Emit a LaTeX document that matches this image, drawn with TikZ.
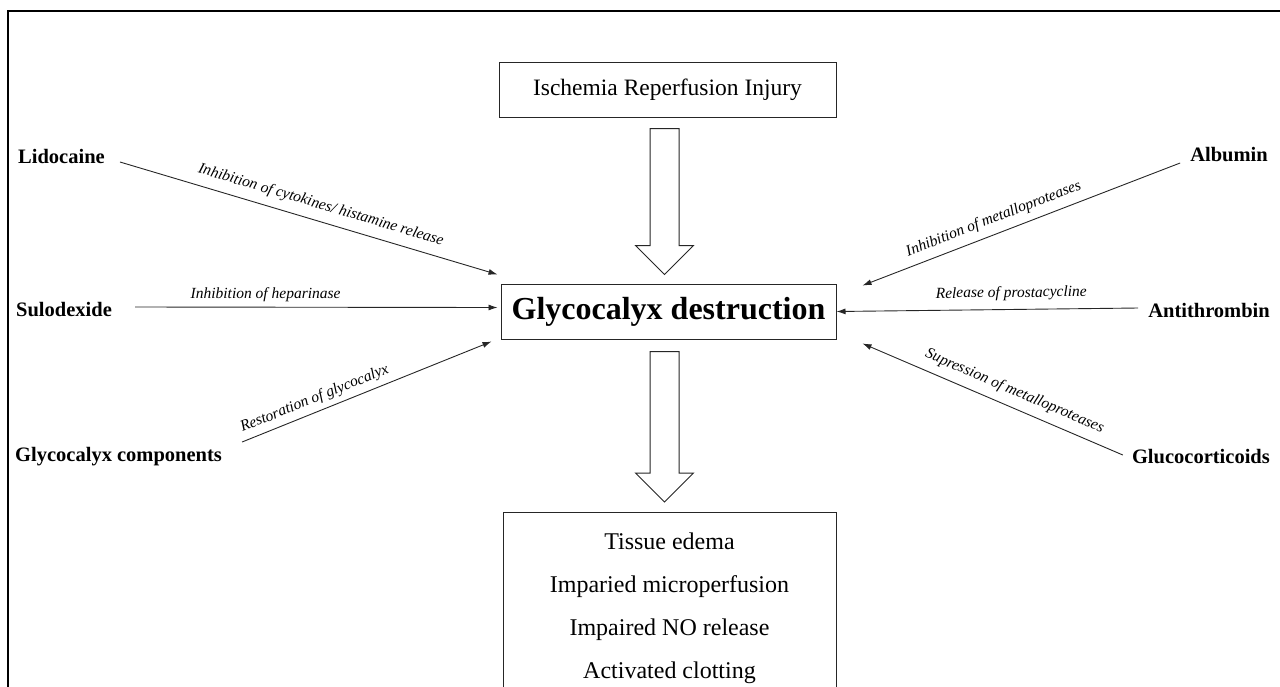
\documentclass[tikz,border=0pt]{standalone}
\usepackage{fontspec}
\setmainfont{Liberation Serif}
\usetikzlibrary{arrows.meta,calc}

\newcommand{\hollowarrow}[2]{%
  \draw[hollow] let \p1=(#1), \p2=(#2) in
    (\x1-14.5,\y1) -- (\x1+14.5,\y1) -- (\x1+14.5,\y2+29)
    -- (\x1+29,\y2+29) -- (\x1,\y2) -- (\x1-29,\y2+29)
    -- (\x1-14.5,\y2+29) -- cycle;%
}

\begin{document}
\begin{tikzpicture}[
    x=1pt, y=-1pt,
    drug/.style={
      inner sep=0pt,
      font=\fontsize{20.5}{24}\selectfont\bfseries,
    },
    effect/.style={
      sloped,
      font=\fontsize{15.5}{18}\selectfont\itshape,
    },
    box/.style={
      draw=black!85,
      line width=1pt,
    },
    link/.style={
      draw=black!85,
      line width=0.9pt,
      -{Latex[length=9pt,width=6pt]},
    },
    hollow/.style={
      draw=black!85,
      line width=1pt,
      fill=white,
    },
  ]
  \useasboundingbox (0,0) rectangle (1280,686);
  \clip (0,0) rectangle (1280,686);
  \draw[line width=2pt] (8,11) rectangle (1300,720);

  % centre column
  \node[box, minimum width=337pt, minimum height=55pt,
        font=\fontsize{23.5}{27}\selectfont]
    (injury) at (667.5,89.5) {Ischemia Reperfusion Injury};
  \node[box, minimum width=335pt, minimum height=55pt,
        font=\fontsize{32}{36}\selectfont\bfseries]
    (glyco) at (668.5,311.5) {Glycocalyx destruction};
  \node[box, anchor=north, minimum width=333pt, inner ysep=20pt, align=center,
        font=\fontsize{24}{43}\selectfont]
    (effects) at (669.5,512) {Tissue edema\\ Imparied microperfusion\\
      Impaired NO release\\ Activated clotting};

  \hollowarrow{$(injury.south)+(-3,11)$}{$(glyco.north)+(-4,-9)$}
  \hollowarrow{$(glyco.south)+(-4,12)$}{$(effects.north)+(-5,-10)$}

  % left side
  \node[drug, anchor=west] (lido) at (18,156) {Lidocaine};
  \node[drug, anchor=west] (sulo) at (16,310) {Sulodexide};
  \node[drug, anchor=west] (comp) at (15,457) {Glycocalyx components};

  % right side
  \node[drug, anchor=east] (alb) at (1268,155) {Albumin};
  \node[drug, anchor=east] (anti) at (1270,310) {Antithrombin};
  \node[drug, anchor=east] (gluco) at (1270,457) {Glucocorticoids};

  \coordinate (lidoEnd) at ($(glyco.north west)+(-3,-9)$);
  \coordinate (suloEnd) at ($(glyco.west)+(-3,-4)$);
  \coordinate (compEnd) at ($(glyco.south west)+(-9,2)$);
  \coordinate (albEnd) at ($(glyco.north east)+(26,2)$);
  \coordinate (glucoEnd) at ($(glyco.south east)+(26,4)$);

  \draw[link] ([shift={(15,6)}]lido.east) -- (lidoEnd)
    node[effect, above=5pt, pos=0.52] {Inhibition of cytokines/ histamine release};
  \draw[link] ([shift={(23,-3)}]sulo.east) -- (suloEnd)
    node[effect, above=2pt, pos=0.36] {Inhibition of heparinase};
  \draw[link] ([shift={(20,-15)}]comp.east) -- (compEnd)
    node[effect, above=2pt, pos=0.31] {Restoration of glycocalyx};

  \draw[link] ([shift={(-10,8)}]alb.west) -- (albEnd)
    node[effect, above=4pt, pos=0.57] {Inhibition of metalloproteases};
  \draw[link] ([shift={(-10,-2)}]anti.west) -- (glyco.east)
    node[effect, above=5pt, pos=0.42] {Release of prostacycline};
  \draw[link] ([shift={(-9,-2)}]gluco.west) -- (glucoEnd)
    node[effect, above=5pt, pos=0.44] {Supression of metalloproteases};
\end{tikzpicture}
\end{document}
